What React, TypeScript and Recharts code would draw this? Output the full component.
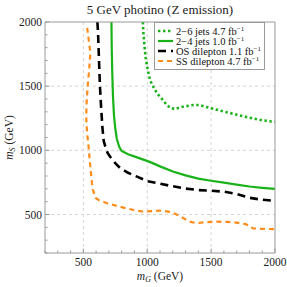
import { LineChart, Line, XAxis, YAxis, ReferenceLine, Legend } from "recharts";

const titleText = "5 GeV photino (Z emission)";
const axisTicks = [200, 300, 400, 500, 600, 700, 800, 900, 1000, 1100, 1200, 1300, 1400, 1500, 1600, 1700, 1800, 1900, 2000];
const majorTicks = [500, 1000, 1500, 2000];
const gridLines = [500, 1000, 1500];

// 2-6 jets 4.7 fb^-1 (green dotted)
const jets26X = [966, 970, 978, 988, 1005, 1025, 1050, 1080, 1111, 1150, 1180, 1215, 1280, 1360, 1410, 1490, 1600, 1700, 1800, 1900, 2000];
const jets26Y = [2000, 1920, 1820, 1720, 1620, 1540, 1490, 1440, 1405, 1358, 1330, 1322, 1340, 1353, 1353, 1330, 1302, 1278, 1254, 1234, 1222];

// 2-4 jets 1.0 fb^-1 (green solid)
const jets24X = [720, 722, 726, 732, 740, 750, 762, 780, 800, 850, 920, 1020, 1100, 1200, 1300, 1400, 1500, 1600, 1700, 1800, 1900, 2000];
const jets24Y = [2000, 1820, 1620, 1420, 1270, 1170, 1090, 1030, 995, 970, 945, 910, 875, 835, 805, 780, 763, 748, 733, 718, 708, 700];

// OS dilepton 1.1 fb^-1 (black dashed)
const osX = [610, 615, 622, 630, 640, 650, 660, 672, 690, 710, 750, 790, 850, 920, 1000, 1100, 1200, 1300, 1400, 1500, 1600, 1700, 1800, 1900, 2000];
const osY = [2000, 1920, 1720, 1500, 1320, 1170, 1070, 1030, 980, 950, 900, 860, 825, 795, 760, 740, 720, 702, 690, 685, 678, 660, 630, 615, 606];

// SS dilepton 4.7 fb^-1 (orange dashed)
const ssX = [530, 545, 555, 545, 534, 525, 523, 530, 541, 550, 560, 568, 576, 595, 620, 680, 737, 820, 893, 971, 1040, 1098, 1150, 1180, 1230, 1281, 1330, 1385, 1450, 1541, 1620, 1698, 1770, 1810, 1822, 1828, 1900, 2000];
const ssY = [1955, 1840, 1760, 1620, 1500, 1360, 1240, 1130, 1030, 920, 822, 740, 691, 630, 613, 590, 574, 552, 535, 522, 526, 530, 525, 520, 500, 473, 445, 432, 440, 444, 442, 437, 425, 408, 395, 392, 388, 386];

const zip = (xs: number[], ys: number[]) => xs.map((x, i) => ({ x, y: ys[i] }));

const series = [
  { name: "2\u22126 jets 4.7 fb", data: zip(jets26X, jets26Y), color: "#19b319", width: 2.6, dash: "2.4 2.6" },
  { name: "2\u22124 jets 1.0 fb", data: zip(jets24X, jets24Y), color: "#19b319", width: 2.2, dash: undefined },
  { name: "OS dilepton 1.1 fb", data: zip(osX, osY), color: "#000000", width: 2.6, dash: "8 5" },
  { name: "SS dilepton 4.7 fb", data: zip(ssX, ssY), color: "#ff8c1a", width: 2.2, dash: "5 4" },
];

const frame = "#9a9a9a";
const font = "'Liberation Serif', 'DejaVu Serif', serif";

function BottomTick(props: any) {
  const { x, y, payload } = props;
  const major = majorTicks.includes(payload.value);
  return (
    <g>
      <line x1={x} y1={y} x2={x} y2={y - (major ? 4.5 : 2.5)} stroke={frame} />
      {major && (
        <text x={x} y={y + 13} textAnchor="middle" fontSize={11.5} fill="#222" fontFamily={font}>
          {payload.value}
        </text>
      )}
    </g>
  );
}

function TopTick(props: any) {
  const { x, y, payload } = props;
  const major = majorTicks.includes(payload.value);
  return <line x1={x} y1={y} x2={x} y2={y + (major ? 4.5 : 2.5)} stroke={frame} />;
}

function LeftTick(props: any) {
  const { x, y, payload } = props;
  const major = majorTicks.includes(payload.value);
  return (
    <g>
      <line x1={x} y1={y} x2={x + (major ? 4.5 : 2.5)} y2={y} stroke={frame} />
      {major && (
        <text x={x - 3} y={y + 4} textAnchor="end" fontSize={11.5} fill="#222" fontFamily={font}>
          {payload.value}
        </text>
      )}
    </g>
  );
}

function RightTick(props: any) {
  const { x, y, payload } = props;
  const major = majorTicks.includes(payload.value);
  return <line x1={x} y1={y} x2={x - (major ? 4.5 : 2.5)} y2={y} stroke={frame} />;
}

function XLabel(props: any) {
  const { x, y, width } = props.viewBox;
  return (
    <text x={x + width / 2} y={y + 26.5} textAnchor="middle" fontSize={11.5} fill="#222" fontFamily={font}>
      <tspan fontStyle="italic">m</tspan>
      <tspan fontSize={8} fontStyle="italic" dy={2}>G</tspan>
      <tspan dy={-2}> (GeV)</tspan>
    </text>
  );
}

function YLabel(props: any) {
  const { x, y, height } = props.viewBox;
  const cx = x + 13;
  const cy = y + height / 2;
  return (
    <text x={cx} y={cy} transform={`rotate(-90 ${cx} ${cy})`} textAnchor="middle" fontSize={11.5} fill="#222" fontFamily={font}>
      <tspan fontStyle="italic">m</tspan>
      <tspan fontSize={8} fontStyle="italic" dy={2}>S</tspan>
      <tspan dy={-2}> (GeV)</tspan>
    </text>
  );
}

function TitleLabel(props: any) {
  const { x, y, width } = props.viewBox;
  return (
    <text x={x + width / 2} y={y + 13.5} textAnchor="middle" fontSize={13} fill="#222" fontFamily={font}>
      {titleText}
    </text>
  );
}

function Sample({ color, width, dash }: any) {
  return (
    <svg width={17} height={8} style={{ marginRight: 2, flexShrink: 0 }}>
      <line x1={1} y1={4} x2={16} y2={4} stroke={color} strokeWidth={width} strokeDasharray={dash} />
    </svg>
  );
}

function LegendBox() {
  return (
    <div
      style={{
        border: `1px solid ${frame}`,
        background: "#fff",
        padding: "3px 3px 3px 2px",
        fontFamily: font,
        fontSize: 10.5,
        color: "#111",
        lineHeight: "9.6px",
      }}
    >
      {series.map((s) => (
        <div key={s.name} style={{ display: "flex", alignItems: "center", height: 10, whiteSpace: "nowrap" }}>
          <Sample color={s.color} width={s.width} dash={s.dash} />
          <span>
            {s.name}
            <sup style={{ fontSize: 7, verticalAlign: "4px" }}>{"\u22121"}</sup>
          </span>
        </div>
      ))}
    </div>
  );
}

export default function App() {
  return (
    <div style={{ position: "absolute", left: 0, top: 0, width: 287, height: 287, background: "#fff" }}>
      <LineChart width={287} height={287} margin={{ top: 0, right: 0, bottom: 0, left: 0 }}>
        <XAxis
          xAxisId={0}
          dataKey="x"
          type="number"
          domain={[200, 2000]}
          ticks={axisTicks}
          interval={0}
          height={34}
          tickSize={0}
          tickMargin={0}
          tickLine={false}
          stroke={frame}
          tick={(p: any) => <BottomTick {...p} />}
          label={{ content: (p: any) => <XLabel {...p} /> }}
        />
        <XAxis
          xAxisId="top"
          orientation="top"
          dataKey="x"
          type="number"
          domain={[200, 2000]}
          ticks={axisTicks}
          interval={0}
          height={22}
          tickSize={0}
          tickMargin={0}
          tickLine={false}
          stroke={frame}
          tick={(p: any) => <TopTick {...p} />}
          label={{ content: (p: any) => <TitleLabel {...p} /> }}
        />
        <YAxis
          yAxisId={0}
          dataKey="y"
          type="number"
          domain={[200, 2000]}
          ticks={axisTicks}
          interval={0}
          width={45}
          tickSize={0}
          tickMargin={0}
          tickLine={false}
          stroke={frame}
          tick={(p: any) => <LeftTick {...p} />}
          label={{ content: (p: any) => <YLabel {...p} /> }}
        />
        <YAxis
          yAxisId="right"
          orientation="right"
          type="number"
          domain={[200, 2000]}
          ticks={axisTicks}
          interval={0}
          width={12}
          tickSize={0}
          tickMargin={0}
          tickLine={false}
          stroke={frame}
          tick={(p: any) => <RightTick {...p} />}
        />
        {gridLines.map((v) => (
          <ReferenceLine key={`gx${v}`} x={v} stroke="#d4d4d4" strokeDasharray="3 3" />
        ))}
        {gridLines.map((v) => (
          <ReferenceLine key={`gy${v}`} y={v} stroke="#d4d4d4" strokeDasharray="3 3" />
        ))}
        {series.map((s) => (
          <Line
            key={s.name}
            data={s.data}
            dataKey="y"
            name={s.name}
            type="linear"
            stroke={s.color}
            strokeWidth={s.width}
            strokeDasharray={s.dash}
            dot={false}
            isAnimationActive={false}
          />
        ))}
        <Legend
          layout="vertical"
          align="center"
          verticalAlign="middle"
          content={() => <LegendBox />}
          wrapperStyle={{ position: "absolute", left: 154, top: 22, width: "auto" }}
        />
      </LineChart>
    </div>
  );
}
